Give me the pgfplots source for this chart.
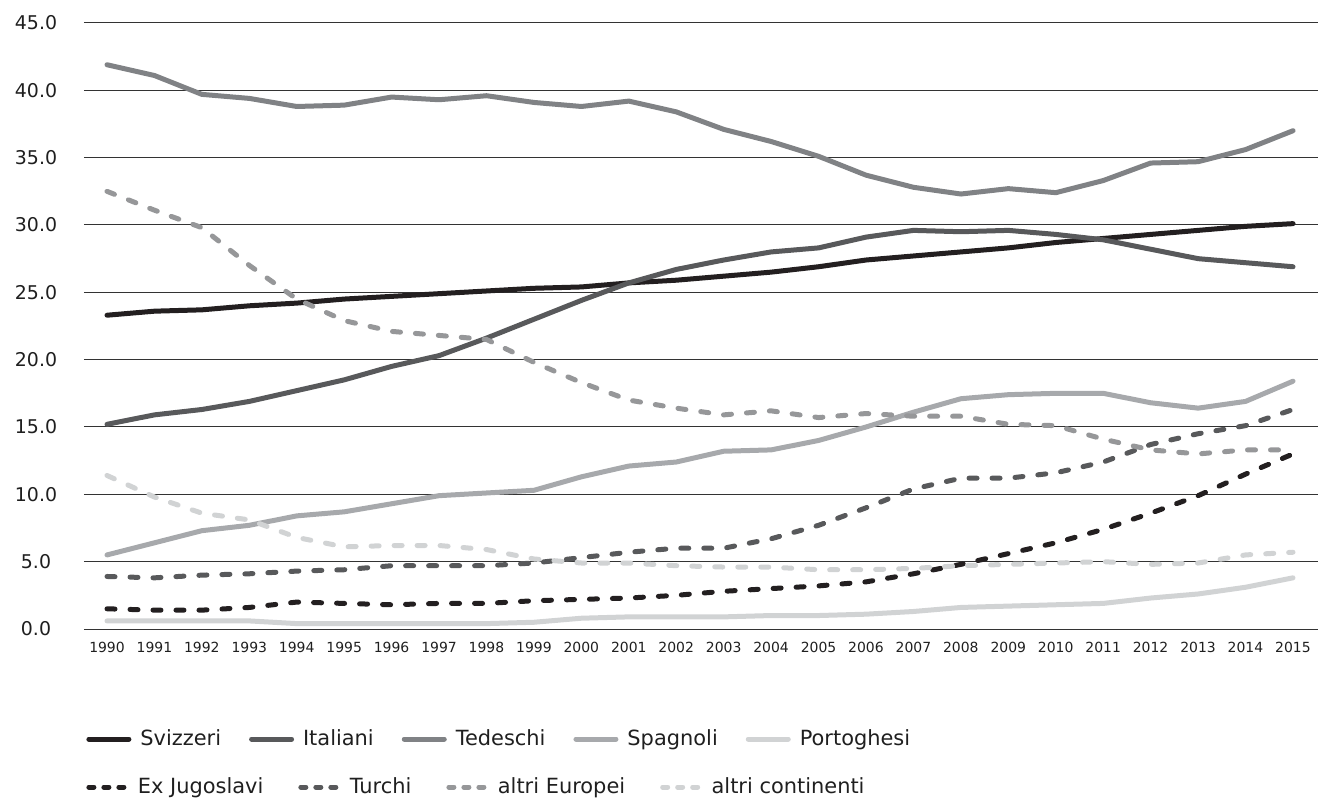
\documentclass[border=0pt]{standalone}
\usepackage{fontspec}
\setmainfont{DejaVu Sans}
\usepackage{pgfplots}
\usepackage{pgfplotstable}
\pgfplotsset{compat=1.18}
\usetikzlibrary{calc}

\definecolor{nero}{HTML}{231F20}
\definecolor{scuro}{HTML}{58595B}
\definecolor{medio}{HTML}{808285}
\definecolor{chiaro}{HTML}{A7A9AC}
\definecolor{pallido}{HTML}{D1D3D4}
\definecolor{europei}{HTML}{969799}

% quote per nazionalita, solide
\pgfplotstableread{
year svizzeri italiani tedeschi spagnoli portoghesi
1990 23.3 15.2 41.9  5.5 0.6
1991 23.6 15.9 41.1  6.4 0.6
1992 23.7 16.3 39.7  7.3 0.6
1993 24.0 16.9 39.4  7.7 0.6
1994 24.2 17.7 38.8  8.4 0.4
1995 24.5 18.5 38.9  8.7 0.4
1996 24.7 19.5 39.5  9.3 0.4
1997 24.9 20.3 39.3  9.9 0.4
1998 25.1 21.6 39.6 10.1 0.4
1999 25.3 23.0 39.1 10.3 0.5
2000 25.4 24.4 38.8 11.3 0.8
2001 25.7 25.7 39.2 12.1 0.9
2002 25.9 26.7 38.4 12.4 0.9
2003 26.2 27.4 37.1 13.2 0.9
2004 26.5 28.0 36.2 13.3 1.0
2005 26.9 28.3 35.1 14.0 1.0
2006 27.4 29.1 33.7 15.0 1.1
2007 27.7 29.6 32.8 16.1 1.3
2008 28.0 29.5 32.3 17.1 1.6
2009 28.3 29.6 32.7 17.4 1.7
2010 28.7 29.3 32.4 17.5 1.8
2011 29.0 28.9 33.3 17.5 1.9
2012 29.3 28.2 34.6 16.8 2.3
2013 29.6 27.5 34.7 16.4 2.6
2014 29.9 27.2 35.6 16.9 3.1
2015 30.1 26.9 37.0 18.4 3.8
}\solidi

% quote per nazionalita, tratteggiate
\pgfplotstableread{
year exjug turchi altrieur altricont
1990  1.5  3.9 32.5 11.4
1991  1.4  3.8 31.1  9.8
1992  1.4  4.0 29.8  8.6
1993  1.6  4.1 27.0  8.1
1994  2.0  4.3 24.5  6.8
1995  1.9  4.4 22.9  6.1
1996  1.8  4.7 22.1  6.2
1997  1.9  4.7 21.8  6.2
1998  1.9  4.7 21.5  5.9
1999  2.1  4.9 19.8  5.2
2000  2.2  5.3 18.3  4.9
2001  2.3  5.7 17.0  4.9
2002  2.5  6.0 16.4  4.7
2003  2.8  6.0 15.9  4.6
2004  3.0  6.7 16.2  4.6
2005  3.2  7.7 15.7  4.4
2006  3.5  9.0 16.0  4.4
2007  4.1 10.4 15.8  4.5
2008  4.8 11.2 15.8  4.7
2009  5.6 11.2 15.2  4.8
2010  6.4 11.6 15.1  4.9
2011  7.4 12.4 14.1  5.0
2012  8.6 13.7 13.3  4.8
2013  9.9 14.5 13.0  4.9
2014 11.5 15.1 13.3  5.5
2015 13.0 16.3 13.3  5.7
}\tratt

\pgfplotsset{
  base/.style={
    scale only axis, width=617bp, height=303bp,
    xmin=1989.515, xmax=2015.527, ymin=0, ymax=45,
    legend cell align=left,
    legend style={draw=none, fill=none, inner sep=0pt, legend columns=-1,
      font=\fontsize{10.5}{12}\selectfont, text=black!88,
      at={(0,0)}, anchor=west, xshift=1bp,
      /tikz/every odd column/.append style={column sep=2.5bp}},
  },
  linea/.style={line width=2.5bp, line cap=round, line join=round},
}

\begin{document}
\begin{tikzpicture}
\begin{axis}[base,
  axis line style={draw=none}, tick style={draw=none},
  ymajorgrids, major grid style={black!80, line width=0.5bp},
  ytick={0,5,...,45},
  xtick={1990,...,2015},
  yticklabel style={anchor=center, xshift=-24bp, text=black!88,
    font=\fontsize{9.5}{11}\selectfont,
    /pgf/number format/.cd, fixed, fixed zerofill, precision=1, assume math mode=true},
  xticklabel style={anchor=center, yshift=-9bp, text=black!88,
    font=\fontsize{7}{8}\selectfont,
    /pgf/number format/.cd, 1000 sep={}, assume math mode=true},
  legend style={yshift=-55bp,
    /tikz/every even column/.append style={column sep=12bp}},
  legend image code/.code={\draw[#1] (0bp,0bp) -- (20bp,0bp);},
]
\coordinate (bl) at (rel axis cs:0,0);
\coordinate (tr) at (rel axis cs:1,1);
\addplot[linea, nero] table[x=year, y=svizzeri] {\solidi};
\addplot[linea, scuro] table[x=year, y=italiani] {\solidi};
\addplot[linea, medio] table[x=year, y=tedeschi] {\solidi};
\addplot[linea, chiaro] table[x=year, y=spagnoli] {\solidi};
\addplot[linea, pallido] table[x=year, y=portoghesi] {\solidi};
\legend{Svizzeri, Italiani, Tedeschi, Spagnoli, Portoghesi}
\end{axis}
\begin{axis}[base, hide axis,
  legend style={yshift=-79bp,
    /tikz/every even column/.append style={column sep=15.5bp}},
  legend image code/.code={\draw[#1, dash pattern=on 2.5bp off 5bp] (1.25bp,0bp) -- (20bp,0bp);},
]
\addplot[linea, nero, dash pattern=on 4bp off 7.5bp] table[x=year, y=exjug] {\tratt};
\addplot[linea, scuro, dash pattern=on 4bp off 7.5bp] table[x=year, y=turchi] {\tratt};
\addplot[linea, europei, dash pattern=on 4bp off 7.5bp] table[x=year, y=altrieur] {\tratt};
\addplot[linea, pallido, dash pattern=on 4bp off 7.5bp] table[x=year, y=altricont] {\tratt};
\legend{Ex Jugoslavi, Turchi, altri Europei, altri continenti}
\end{axis}
\pgfresetboundingbox
\path ($(bl)+(-42bp,-85.5bp)$) rectangle ($(tr)+(0bp,11.5bp)$);
\end{tikzpicture}
\end{document}
